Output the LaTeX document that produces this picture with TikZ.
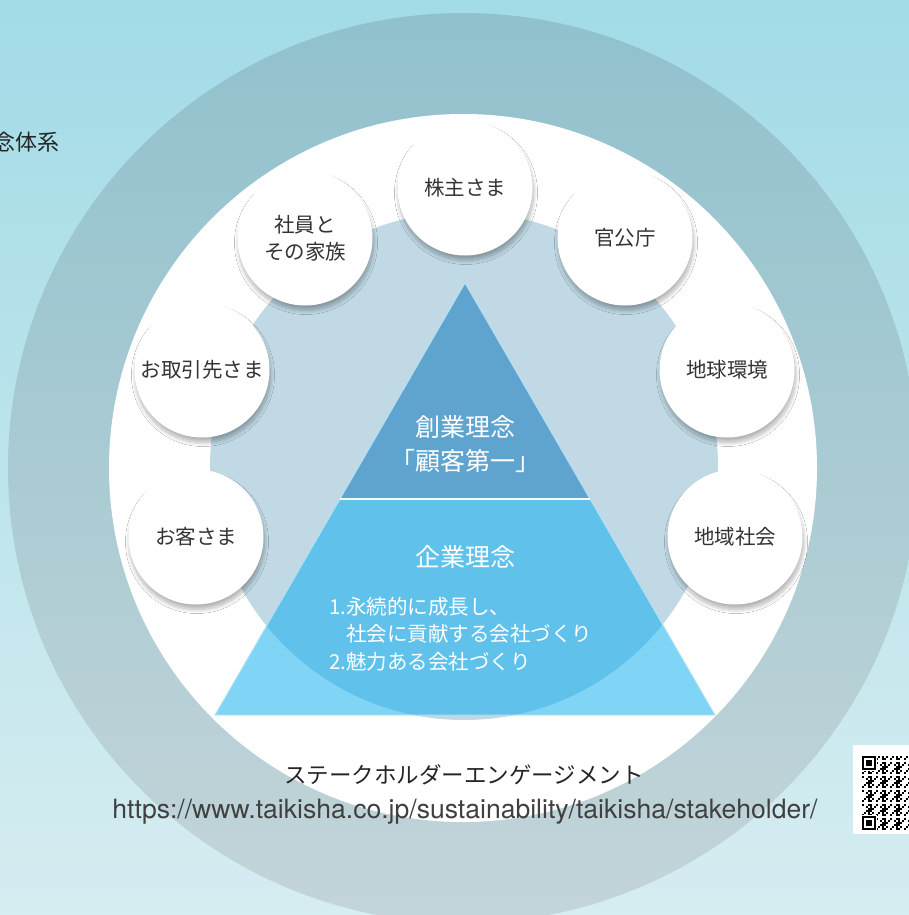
\documentclass[tikz,border=0pt]{standalone}
\usepackage{fontspec}
\usepackage{graphicx}
\setmainfont{Noto Sans CJK JP}
\newfontfamily\urlfont{TeX Gyre Heros}
\usetikzlibrary{shadows.blur}
\definecolor{bgtop}{HTML}{A2DBE7}
\definecolor{bgbot}{HTML}{D6EDF1}
\definecolor{ringtop}{HTML}{90C1CD}
\definecolor{ringbot}{HTML}{C4D5D9}
\definecolor{innerdisc}{HTML}{C0D9E4}
\definecolor{triup}{HTML}{5FA4CF}
\definecolor{trilowin}{HTML}{60C2EA}
\definecolor{trilowout}{HTML}{80D4F6}
\definecolor{triedge}{HTML}{B5E2F4}
\definecolor{txtdark}{HTML}{333333}
\tikzset{
  stake/.style={circle, fill=white, minimum size=135pt, inner sep=0pt, align=center,
    text=txtdark, font=\fontsize{20.5}{27}\selectfont,
    blur shadow={shadow xshift=1pt, shadow yshift=-5pt, shadow blur radius=4pt, shadow blur steps=12, shadow opacity=30}},
  tritext/.style={text=white, font=\fontsize{25}{30}\selectfont, inner sep=0pt},
  listtext/.style={text=white, font=\fontsize{20.5}{28}\selectfont, inner sep=0pt, anchor=west},
  plain/.style={text=txtdark, font=\fontsize{21}{26}\selectfont, inner sep=0pt}
}
\begin{document}
\begin{tikzpicture}[x=1pt,y=-1pt]
\useasboundingbox (0,0) rectangle (909,915);
\clip (0,0) rectangle (909,915);
% background
\shade[top color=bgtop, bottom color=bgbot] (0,0) rectangle (909,915);
\coordinate (C) at (463,468);
\coordinate (D) at (464,466);
% outer ring
\shade[top color=ringtop, bottom color=ringbot] (C) circle (455pt);
% white disc
\fill[white] (C) circle (354pt);
% inner disc
\fill[innerdisc] (D) circle (254pt);
% triangle
\coordinate (apex) at (465,283);
\coordinate (bl) at (215,715);
\coordinate (br) at (715,715);
\coordinate (ml) at (340,499);
\coordinate (mr) at (590,499);
\fill[trilowout] (ml) -- (mr) -- (br) -- (bl) -- cycle;
\begin{scope}
  \clip (D) circle (254pt);
  \fill[trilowin] (ml) -- (mr) -- (br) -- (bl) -- cycle;
\end{scope}
\fill[triup] (apex) -- (mr) -- (ml) -- cycle;
\draw[triedge, line width=0.9pt, line join=miter] (apex) -- (br) -- (bl) -- cycle;
\draw[white!85!triedge, line width=2pt] (ml) -- (mr);
% triangle texts
\node[tritext] (t1) at (465,427) {創業理念};
\node[tritext] (t2) at (465,461) {「顧客第一」};
\node[tritext] (t3) at (465,557) {企業理念};
\node[listtext] (l1) at (329,607) {1.永続的に成長し、};
\node[listtext] (l2) at (329,634) {\hphantom{1.}社会に貢献する会社づくり};
\node[listtext] (l3) at (329,662) {2.魅力ある会社づくり};
% stakeholders
\node[stake] (s1) at (465,188) {株主さま};
\node[stake] (s2) at (305,238) {社員と\\その家族};
\node[stake] (s3) at (625,238) {官公庁};
\node[stake] (s4) at (202,370) {お取引先さま};
\node[stake] (s5) at (727,370) {地球環境};
\node[stake] (s6) at (196,537) {お客さま};
\node[stake] (s7) at (735,537) {地域社会};
% bottom texts
\node[plain, text=black!85, font=\fontsize{22.5}{26}\selectfont] (eng) at (464,775) {ステークホルダーエンゲージメント};
\node[plain, text=black!75] (url) at (465,812) {\resizebox{705pt}{!}{\urlfont https://www.taikisha.co.jp/sustainability/taikisha/stakeholder/}};
% top-left title (cut off, as in the reference)
\node[plain, anchor=east, text=black!85, font=\fontsize{22}{26}\selectfont] (title) at (60,142) {理念体系};
% QR code
\fill[white] (853,745) rectangle (915,834);
\begin{scope}
\foreach \i in {0,...,24}{
  \foreach \j in {0,...,36}{
    \pgfmathtruncatemacro\r{mod(\i*\i*7+\j*\j*3+\i*\j*5+\i*11+\j*2+3,7)<3 ? 1 : 0}
    \ifnum\r=1
      \fill[black] (862+2*\i,756+2*\j) rectangle ++(2.05,2.05);
    \fi
  }
}
\foreach \fy in {756,816}{
  \fill[white] (861,\fy-1) rectangle ++(16,16);
  \fill[black] (862,\fy) rectangle ++(14,14);
  \fill[white] (864,\fy+2) rectangle ++(10,10);
  \fill[black] (866,\fy+4) rectangle ++(6,6);
}
\end{scope}
\end{tikzpicture}
\end{document}
